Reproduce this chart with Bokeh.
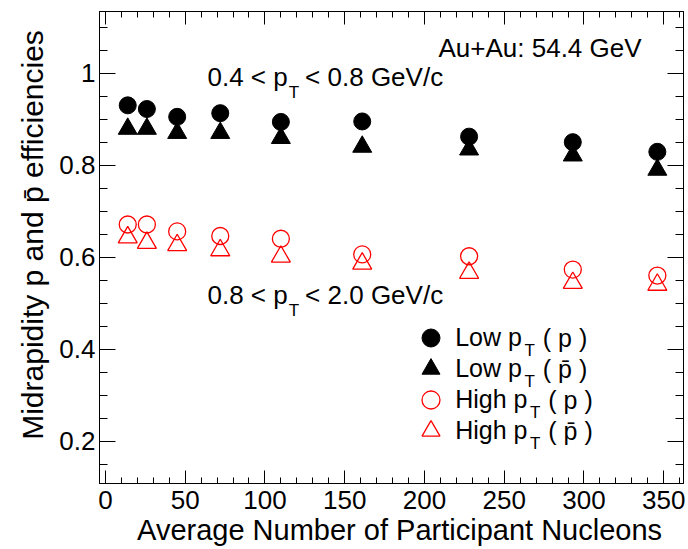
import numpy as np
from bokeh.plotting import figure
from bokeh.models import Range1d, LinearAxis, FixedTicker, Label, Legend, LegendItem
from bokeh.embed import file_html
from bokeh.resources import INLINE

# ---------------- data ----------------
npart = [14, 26, 45, 72, 110, 161, 228, 293, 346]
eff_low_p = [0.930, 0.922, 0.905, 0.913, 0.894, 0.895, 0.862, 0.850, 0.829]
eff_low_pbar = [0.879, 0.879, 0.870, 0.870, 0.859, 0.840, 0.834, 0.821, 0.790]
eff_high_p = [0.671, 0.671, 0.656, 0.646, 0.640, 0.606, 0.602, 0.573, 0.560]
eff_high_pbar = [0.643, 0.631, 0.626, 0.615, 0.601, 0.586, 0.566, 0.544, 0.540]

x_ticks = [0, 50, 100, 150, 200, 250, 300, 350]
y_ticks = [0.2, 0.4, 0.6, 0.8, 1.0]
y_tick_labels = ["0.2", "0.4", "0.6", "0.8", "1"]

x_title = "Average Number of Participant Nucleons"
y_title = "Midrapidity p and p\u0304 efficiencies"

# ---------------- layout ----------------
FONT = "Liberation Sans"
W, H = 688, 549
BL, BR, BT, BB = 99, 5, 11, 66
XR = (-3.7, 362.4)
YR = (0.108, 1.134)
NBSP = "\u00a0"

AW = {' ': 278, '(': 333, ')': 333, '.': 278, '/': 278, ':': 278, '<': 584, '+': 584,
      'A': 667, 'G': 778, 'H': 722, 'L': 556, 'T': 611, 'V': 667, 'a': 556, 'c': 500,
      'e': 556, 'g': 556, 'h': 556, 'i': 222, 'o': 556, 'p': 556, 'u': 556, 'w': 722,
      '\u0304': 0}


def tw(s, size):
    return sum(AW.get(ch, 556) for ch in s) / 1000.0 * size


p = figure(width=W, height=H, output_backend="svg", toolbar_location=None,
           x_range=Range1d(*XR), y_range=Range1d(*YR),
           min_border_left=BL, min_border_right=BR, min_border_top=BT, min_border_bottom=BB)
p.background_fill_color = "white"
p.border_fill_color = "white"
p.outline_line_color = "black"
p.outline_line_width = 1
p.xgrid.visible = False
p.ygrid.visible = False

x_minor = [float(v) for v in np.arange(0, 361, 10)]
y_minor = [float(v) for v in np.round(np.arange(0.15, 1.13, 0.05), 2)]
xt = FixedTicker(ticks=x_ticks, minor_ticks=x_minor)
yt = FixedTicker(ticks=y_ticks, minor_ticks=y_minor)

xa = p.xaxis[0]
xa.ticker = xt
# leading no-break spaces shift the centred title towards where ROOT put it
xa.axis_label = NBSP * 2 + x_title
ya = p.yaxis[0]
ya.ticker = yt
ya.axis_label = NBSP * 3 + y_title
ya.major_label_overrides = dict(zip(y_ticks, y_tick_labels))

for ax in (xa, ya):
    ax.major_label_text_font = FONT
    ax.major_label_text_font_size = "26px"
    ax.major_label_text_color = "black"
    ax.axis_label_text_font = FONT
    ax.axis_label_text_font_style = "normal"
    ax.axis_label_text_color = "black"
    ax.major_tick_out = 0
    ax.minor_tick_out = 0
    ax.axis_line_color = "black"
    ax.major_tick_line_color = "black"
    ax.minor_tick_line_color = "black"

xa.axis_label_text_font_size = "29px"
ya.axis_label_text_font_size = "30px"
xa.major_tick_in = 13
xa.minor_tick_in = 6
xa.major_label_standoff = 7
xa.axis_label_standoff = 2
ya.major_tick_in = 16
ya.minor_tick_in = 8
ya.major_label_standoff = 4
ya.axis_label_standoff = 7

top = LinearAxis(ticker=xt, major_label_text_font_size="0px", major_label_text_color=None,
                 major_label_standoff=0,
                 major_tick_in=13, major_tick_out=0, minor_tick_in=6, minor_tick_out=0,
                 axis_line_color="black", major_tick_line_color="black",
                 minor_tick_line_color="black")
right = LinearAxis(ticker=yt, major_label_text_font_size="0px", major_label_text_color=None,
                   major_label_standoff=0,
                   major_tick_in=16, major_tick_out=0, minor_tick_in=8, minor_tick_out=0,
                   axis_line_color="black", major_tick_line_color="black",
                   minor_tick_line_color="black")
p.add_layout(top, "above")
p.add_layout(right, "right")

# ---------------- data markers ----------------
r_lp = p.scatter(npart, eff_low_p, marker="circle", size=17, fill_color="black", line_color="black")
r_lpb = p.scatter(npart, eff_low_pbar, marker="triangle", size=19, fill_color="black", line_color="black")
r_hp = p.scatter(npart, eff_high_p, marker="circle", size=17, fill_color=None, line_color="#ff0000", line_width=1.3)
r_hpb = p.scatter(npart, eff_high_pbar, marker="triangle", size=19, fill_color=None, line_color="#ff0000", line_width=1.3)


# ---------------- annotations ----------------
def sub_text(x, y, a, sub, b, size=26, subsize=17):
    w1 = tw(a, size) + 1
    w2 = tw(sub, subsize) + 6
    for txt, xo, yo, fs in ((a, 0, 0, size), (sub, w1, -15.5, subsize), (b, w1 + w2, 0, size)):
        p.add_layout(Label(x=x, y=y, x_offset=xo, y_offset=yo, text=txt,
                           text_font=FONT, text_font_size=f"{fs}px", text_color="black",
                           text_align="left", text_baseline="middle"))


p.add_layout(Label(x=208.8, y=1.0557, text="Au+Au: 54.4 GeV", text_font=FONT,
                   text_font_size="26px", text_color="black", text_baseline="middle"))
sub_text(64.0, 0.9916, "0.4 < p", "T", "< 0.8 GeV/c")
sub_text(64.0, 0.5188, "0.8 < p", "T", "< 2.0 GeV/c")

# ---------------- legend (one block per row) ----------------
leg_rows = [("Low p", "( p )", r_lp), ("Low p", "( p\u0304 )", r_lpb),
            ("High p", "( p )", r_hp), ("High p", "( p\u0304 )", r_hpb)]
GLYPH = 45
PITCH = 31
STANDOFF = 2
LSIZE = 25
glyph_cx = 430.7 - BL              # frame-relative screen position of the legend symbols
row0_cy = (H - BB) - 337           # frame-relative (up) centre of the first row
leg_x = glyph_cx - GLYPH / 2
text_x0 = leg_x + GLYPH + STANDOFF
for i, (a, b, r) in enumerate(leg_rows):
    cy = row0_cy - i * PITCH
    leg = Legend(items=[LegendItem(label=a, renderers=[r])],
                 location=(leg_x, cy - GLYPH / 2), orientation="vertical",
                 glyph_width=GLYPH, glyph_height=GLYPH, spacing=0,
                 padding=0, margin=0, label_standoff=STANDOFF,
                 label_text_font=FONT, label_text_font_size=f"{LSIZE}px",
                 label_text_color="black", label_text_baseline="middle",
                 border_line_color=None, background_fill_alpha=0)
    p.add_layout(leg, "center")
    xa0 = text_x0 + tw(a, LSIZE) + 2
    p.add_layout(Label(x=xa0, y=cy - 12.5, x_units="screen", y_units="screen", text="T",
                       text_font=FONT, text_font_size="17px", text_color="black",
                       text_baseline="middle"))
    p.add_layout(Label(x=xa0 + tw("T", 17) + 8, y=cy, x_units="screen", y_units="screen", text=b,
                       text_font=FONT, text_font_size=f"{LSIZE}px", text_color="black",
                       text_baseline="middle"))

open("out.html", "w").write(file_html(p, INLINE))
